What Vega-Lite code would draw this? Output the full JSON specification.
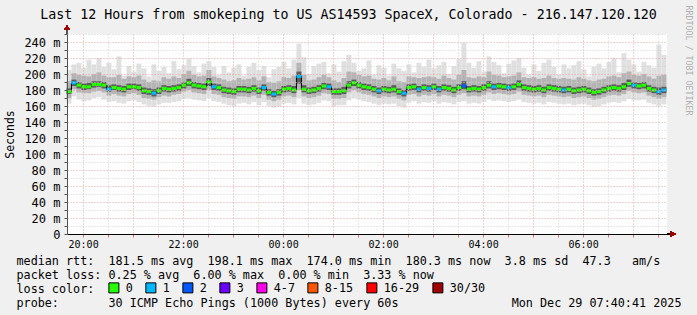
{
"$schema":"https://vega.github.io/schema/vega-lite/v6.json",
"width":600,"height":200,
"autosize":{"type":"none"},
"padding":{"left":67,"top":34,"right":30,"bottom":81},
"background":"#f0f0f0",
"config":{"view":{"fill":"#ffffff","stroke":null},"font":"DejaVu Sans Mono"},
"data":{"values":[
{"t":"2025-12-28T19:43:00Z","lo":163,"p10":170,"p25":175,"med":178,"p75":182,"p90":191,"hi":205,"loss":"0"},
{"t":"2025-12-28T19:49:00Z","lo":172,"p10":181,"p25":185,"med":189,"p75":193,"p90":201,"hi":212,"loss":"1"},
{"t":"2025-12-28T19:55:00Z","lo":168,"p10":177,"p25":182,"med":186,"p75":190,"p90":199,"hi":214,"loss":"0"},
{"t":"2025-12-28T20:01:00Z","lo":166,"p10":176,"p25":180,"med":184,"p75":188,"p90":198,"hi":208,"loss":"0"},
{"t":"2025-12-28T20:07:00Z","lo":167,"p10":176,"p25":181,"med":184,"p75":189,"p90":197,"hi":218,"loss":"0"},
{"t":"2025-12-28T20:13:00Z","lo":170,"p10":178,"p25":183,"med":187,"p75":191,"p90":200,"hi":212,"loss":"0"},
{"t":"2025-12-28T20:19:00Z","lo":171,"p10":179,"p25":184,"med":187,"p75":191,"p90":202,"hi":220,"loss":"0"},
{"t":"2025-12-28T20:25:00Z","lo":168,"p10":177,"p25":182,"med":186,"p75":190,"p90":198,"hi":209,"loss":"0"},
{"t":"2025-12-28T20:31:00Z","lo":165,"p10":173,"p25":178,"med":181,"p75":186,"p90":196,"hi":214,"loss":"1"},
{"t":"2025-12-28T20:37:00Z","lo":166,"p10":175,"p25":180,"med":183,"p75":187,"p90":196,"hi":206,"loss":"0"},
{"t":"2025-12-28T20:43:00Z","lo":164,"p10":173,"p25":178,"med":182,"p75":186,"p90":199,"hi":222,"loss":"0"},
{"t":"2025-12-28T20:49:00Z","lo":163,"p10":172,"p25":177,"med":181,"p75":185,"p90":194,"hi":198,"loss":"0"},
{"t":"2025-12-28T20:55:00Z","lo":166,"p10":175,"p25":180,"med":184,"p75":188,"p90":197,"hi":210,"loss":"0"},
{"t":"2025-12-28T21:01:00Z","lo":167,"p10":176,"p25":181,"med":184,"p75":188,"p90":196,"hi":203,"loss":"0"},
{"t":"2025-12-28T21:07:00Z","lo":165,"p10":174,"p25":179,"med":183,"p75":187,"p90":198,"hi":213,"loss":"0"},
{"t":"2025-12-28T21:13:00Z","lo":162,"p10":170,"p25":175,"med":179,"p75":183,"p90":193,"hi":207,"loss":"0"},
{"t":"2025-12-28T21:19:00Z","lo":160,"p10":169,"p25":174,"med":178,"p75":182,"p90":190,"hi":197,"loss":"0"},
{"t":"2025-12-28T21:25:00Z","lo":159,"p10":168,"p25":172,"med":176,"p75":181,"p90":192,"hi":212,"loss":"1"},
{"t":"2025-12-28T21:31:00Z","lo":162,"p10":171,"p25":175,"med":179,"p75":183,"p90":191,"hi":204,"loss":"0"},
{"t":"2025-12-28T21:37:00Z","lo":164,"p10":173,"p25":178,"med":182,"p75":186,"p90":196,"hi":209,"loss":"0"},
{"t":"2025-12-28T21:43:00Z","lo":164,"p10":172,"p25":177,"med":181,"p75":185,"p90":194,"hi":201,"loss":"0"},
{"t":"2025-12-28T21:49:00Z","lo":165,"p10":174,"p25":178,"med":182,"p75":186,"p90":197,"hi":216,"loss":"0"},
{"t":"2025-12-28T21:55:00Z","lo":166,"p10":175,"p25":179,"med":183,"p75":187,"p90":195,"hi":206,"loss":"0"},
{"t":"2025-12-28T22:01:00Z","lo":169,"p10":178,"p25":182,"med":186,"p75":190,"p90":200,"hi":211,"loss":"0"},
{"t":"2025-12-28T22:07:00Z","lo":170,"p10":180,"p25":185,"med":189,"p75":194,"p90":204,"hi":219,"loss":"0"},
{"t":"2025-12-28T22:13:00Z","lo":168,"p10":177,"p25":182,"med":186,"p75":190,"p90":199,"hi":210,"loss":"0"},
{"t":"2025-12-28T22:19:00Z","lo":167,"p10":176,"p25":181,"med":185,"p75":189,"p90":197,"hi":202,"loss":"0"},
{"t":"2025-12-28T22:25:00Z","lo":166,"p10":175,"p25":180,"med":184,"p75":188,"p90":198,"hi":213,"loss":"0"},
{"t":"2025-12-28T22:31:00Z","lo":170,"p10":180,"p25":185,"med":190,"p75":195,"p90":205,"hi":216,"loss":"0"},
{"t":"2025-12-28T22:37:00Z","lo":166,"p10":175,"p25":180,"med":184,"p75":188,"p90":197,"hi":209,"loss":"1"},
{"t":"2025-12-28T22:43:00Z","lo":165,"p10":174,"p25":179,"med":183,"p75":187,"p90":195,"hi":199,"loss":"0"},
{"t":"2025-12-28T22:49:00Z","lo":163,"p10":171,"p25":176,"med":180,"p75":184,"p90":193,"hi":210,"loss":"0"},
{"t":"2025-12-28T22:55:00Z","lo":161,"p10":170,"p25":175,"med":179,"p75":183,"p90":191,"hi":202,"loss":"0"},
{"t":"2025-12-28T23:01:00Z","lo":160,"p10":169,"p25":174,"med":178,"p75":182,"p90":192,"hi":208,"loss":"0"},
{"t":"2025-12-28T23:07:00Z","lo":163,"p10":172,"p25":177,"med":181,"p75":185,"p90":195,"hi":212,"loss":"0"},
{"t":"2025-12-28T23:13:00Z","lo":164,"p10":172,"p25":177,"med":181,"p75":185,"p90":193,"hi":198,"loss":"0"},
{"t":"2025-12-28T23:19:00Z","lo":162,"p10":171,"p25":176,"med":180,"p75":184,"p90":194,"hi":209,"loss":"0"},
{"t":"2025-12-28T23:25:00Z","lo":165,"p10":173,"p25":178,"med":182,"p75":186,"p90":196,"hi":214,"loss":"0"},
{"t":"2025-12-28T23:31:00Z","lo":161,"p10":170,"p25":175,"med":179,"p75":183,"p90":192,"hi":205,"loss":"0"},
{"t":"2025-12-28T23:37:00Z","lo":165,"p10":174,"p25":179,"med":183,"p75":187,"p90":197,"hi":210,"loss":"1"},
{"t":"2025-12-28T23:43:00Z","lo":160,"p10":168,"p25":173,"med":177,"p75":181,"p90":190,"hi":196,"loss":"0"},
{"t":"2025-12-28T23:49:00Z","lo":158,"p10":166,"p25":171,"med":175,"p75":179,"p90":189,"hi":206,"loss":"1"},
{"t":"2025-12-28T23:55:00Z","lo":159,"p10":168,"p25":173,"med":177,"p75":181,"p90":191,"hi":209,"loss":"0"},
{"t":"2025-12-29T00:01:00Z","lo":163,"p10":172,"p25":177,"med":181,"p75":185,"p90":196,"hi":215,"loss":"0"},
{"t":"2025-12-29T00:07:00Z","lo":164,"p10":173,"p25":178,"med":182,"p75":186,"p90":195,"hi":207,"loss":"0"},
{"t":"2025-12-29T00:13:00Z","lo":162,"p10":171,"p25":176,"med":180,"p75":185,"p90":198,"hi":218,"loss":"0"},
{"t":"2025-12-29T00:19:00Z","lo":170,"p10":180,"p25":188,"med":197,"p75":203,"p90":214,"hi":238,"loss":"1"},
{"t":"2025-12-29T00:25:00Z","lo":163,"p10":172,"p25":177,"med":181,"p75":186,"p90":199,"hi":221,"loss":"0"},
{"t":"2025-12-29T00:31:00Z","lo":161,"p10":170,"p25":175,"med":179,"p75":183,"p90":192,"hi":200,"loss":"0"},
{"t":"2025-12-29T00:37:00Z","lo":162,"p10":171,"p25":176,"med":180,"p75":184,"p90":193,"hi":210,"loss":"0"},
{"t":"2025-12-29T00:43:00Z","lo":164,"p10":173,"p25":178,"med":182,"p75":186,"p90":196,"hi":213,"loss":"0"},
{"t":"2025-12-29T00:49:00Z","lo":167,"p10":176,"p25":181,"med":185,"p75":189,"p90":199,"hi":215,"loss":"0"},
{"t":"2025-12-29T00:55:00Z","lo":166,"p10":175,"p25":180,"med":184,"p75":188,"p90":196,"hi":201,"loss":"1"},
{"t":"2025-12-29T01:01:00Z","lo":160,"p10":169,"p25":174,"med":178,"p75":182,"p90":192,"hi":212,"loss":"0"},
{"t":"2025-12-29T01:07:00Z","lo":161,"p10":169,"p25":174,"med":178,"p75":182,"p90":190,"hi":203,"loss":"0"},
{"t":"2025-12-29T01:13:00Z","lo":161,"p10":170,"p25":175,"med":179,"p75":184,"p90":195,"hi":216,"loss":"0"},
{"t":"2025-12-29T01:19:00Z","lo":167,"p10":177,"p25":182,"med":186,"p75":191,"p90":203,"hi":224,"loss":"0"},
{"t":"2025-12-29T01:25:00Z","lo":170,"p10":180,"p25":185,"med":189,"p75":193,"p90":202,"hi":214,"loss":"0"},
{"t":"2025-12-29T01:31:00Z","lo":168,"p10":177,"p25":182,"med":186,"p75":190,"p90":199,"hi":204,"loss":"0"},
{"t":"2025-12-29T01:37:00Z","lo":166,"p10":175,"p25":180,"med":184,"p75":188,"p90":197,"hi":207,"loss":"0"},
{"t":"2025-12-29T01:43:00Z","lo":165,"p10":174,"p25":179,"med":183,"p75":187,"p90":198,"hi":217,"loss":"0"},
{"t":"2025-12-29T01:49:00Z","lo":163,"p10":172,"p25":177,"med":181,"p75":185,"p90":194,"hi":199,"loss":"0"},
{"t":"2025-12-29T01:55:00Z","lo":161,"p10":170,"p25":175,"med":179,"p75":183,"p90":193,"hi":211,"loss":"1"},
{"t":"2025-12-29T02:01:00Z","lo":163,"p10":172,"p25":177,"med":181,"p75":185,"p90":195,"hi":208,"loss":"0"},
{"t":"2025-12-29T02:07:00Z","lo":162,"p10":171,"p25":176,"med":180,"p75":184,"p90":192,"hi":198,"loss":"0"},
{"t":"2025-12-29T02:13:00Z","lo":163,"p10":172,"p25":177,"med":181,"p75":186,"p90":197,"hi":213,"loss":"0"},
{"t":"2025-12-29T02:19:00Z","lo":160,"p10":169,"p25":174,"med":178,"p75":182,"p90":191,"hi":207,"loss":"0"},
{"t":"2025-12-29T02:25:00Z","lo":158,"p10":167,"p25":172,"med":176,"p75":180,"p90":190,"hi":204,"loss":"1"},
{"t":"2025-12-29T02:31:00Z","lo":164,"p10":174,"p25":179,"med":183,"p75":187,"p90":197,"hi":212,"loss":"0"},
{"t":"2025-12-29T02:37:00Z","lo":166,"p10":175,"p25":180,"med":184,"p75":188,"p90":196,"hi":202,"loss":"0"},
{"t":"2025-12-29T02:43:00Z","lo":163,"p10":172,"p25":177,"med":181,"p75":185,"p90":195,"hi":214,"loss":"1"},
{"t":"2025-12-29T02:49:00Z","lo":165,"p10":174,"p25":179,"med":183,"p75":187,"p90":196,"hi":209,"loss":"0"},
{"t":"2025-12-29T02:55:00Z","lo":164,"p10":173,"p25":178,"med":182,"p75":186,"p90":197,"hi":218,"loss":"1"},
{"t":"2025-12-29T03:01:00Z","lo":166,"p10":175,"p25":180,"med":184,"p75":188,"p90":196,"hi":207,"loss":"0"},
{"t":"2025-12-29T03:07:00Z","lo":163,"p10":172,"p25":177,"med":181,"p75":185,"p90":194,"hi":211,"loss":"1"},
{"t":"2025-12-29T03:13:00Z","lo":165,"p10":174,"p25":179,"med":183,"p75":187,"p90":198,"hi":215,"loss":"0"},
{"t":"2025-12-29T03:19:00Z","lo":164,"p10":173,"p25":178,"med":182,"p75":186,"p90":195,"hi":200,"loss":"0"},
{"t":"2025-12-29T03:25:00Z","lo":162,"p10":171,"p25":176,"med":180,"p75":184,"p90":193,"hi":210,"loss":"0"},
{"t":"2025-12-29T03:31:00Z","lo":165,"p10":174,"p25":179,"med":183,"p75":187,"p90":199,"hi":219,"loss":"0"},
{"t":"2025-12-29T03:37:00Z","lo":166,"p10":176,"p25":181,"med":185,"p75":191,"p90":205,"hi":239,"loss":"2"},
{"t":"2025-12-29T03:43:00Z","lo":163,"p10":172,"p25":177,"med":181,"p75":185,"p90":196,"hi":214,"loss":"0"},
{"t":"2025-12-29T03:49:00Z","lo":164,"p10":173,"p25":178,"med":182,"p75":186,"p90":195,"hi":208,"loss":"0"},
{"t":"2025-12-29T03:55:00Z","lo":163,"p10":172,"p25":177,"med":181,"p75":185,"p90":197,"hi":216,"loss":"0"},
{"t":"2025-12-29T04:01:00Z","lo":165,"p10":174,"p25":179,"med":183,"p75":187,"p90":196,"hi":203,"loss":"0"},
{"t":"2025-12-29T04:07:00Z","lo":168,"p10":177,"p25":182,"med":186,"p75":191,"p90":203,"hi":222,"loss":"0"},
{"t":"2025-12-29T04:13:00Z","lo":166,"p10":175,"p25":180,"med":184,"p75":188,"p90":199,"hi":215,"loss":"1"},
{"t":"2025-12-29T04:19:00Z","lo":167,"p10":176,"p25":181,"med":185,"p75":189,"p90":198,"hi":211,"loss":"0"},
{"t":"2025-12-29T04:25:00Z","lo":166,"p10":175,"p25":180,"med":184,"p75":188,"p90":196,"hi":201,"loss":"0"},
{"t":"2025-12-29T04:31:00Z","lo":165,"p10":174,"p25":179,"med":183,"p75":187,"p90":197,"hi":213,"loss":"1"},
{"t":"2025-12-29T04:37:00Z","lo":166,"p10":175,"p25":180,"med":184,"p75":188,"p90":198,"hi":217,"loss":"0"},
{"t":"2025-12-29T04:43:00Z","lo":168,"p10":178,"p25":183,"med":187,"p75":192,"p90":202,"hi":220,"loss":"0"},
{"t":"2025-12-29T04:49:00Z","lo":165,"p10":174,"p25":179,"med":183,"p75":187,"p90":196,"hi":208,"loss":"0"},
{"t":"2025-12-29T04:55:00Z","lo":164,"p10":173,"p25":178,"med":182,"p75":186,"p90":195,"hi":199,"loss":"0"},
{"t":"2025-12-29T05:01:00Z","lo":163,"p10":172,"p25":177,"med":181,"p75":185,"p90":196,"hi":212,"loss":"0"},
{"t":"2025-12-29T05:07:00Z","lo":164,"p10":173,"p25":178,"med":182,"p75":186,"p90":194,"hi":204,"loss":"0"},
{"t":"2025-12-29T05:13:00Z","lo":162,"p10":171,"p25":176,"med":180,"p75":184,"p90":195,"hi":214,"loss":"0"},
{"t":"2025-12-29T05:19:00Z","lo":165,"p10":174,"p25":179,"med":183,"p75":187,"p90":198,"hi":218,"loss":"0"},
{"t":"2025-12-29T05:25:00Z","lo":164,"p10":173,"p25":178,"med":182,"p75":186,"p90":195,"hi":209,"loss":"0"},
{"t":"2025-12-29T05:31:00Z","lo":163,"p10":172,"p25":177,"med":181,"p75":185,"p90":194,"hi":199,"loss":"0"},
{"t":"2025-12-29T05:37:00Z","lo":162,"p10":171,"p25":176,"med":180,"p75":184,"p90":195,"hi":212,"loss":"1"},
{"t":"2025-12-29T05:43:00Z","lo":163,"p10":172,"p25":177,"med":181,"p75":185,"p90":194,"hi":207,"loss":"0"},
{"t":"2025-12-29T05:49:00Z","lo":161,"p10":170,"p25":175,"med":179,"p75":183,"p90":193,"hi":211,"loss":"0"},
{"t":"2025-12-29T05:55:00Z","lo":162,"p10":171,"p25":176,"med":180,"p75":184,"p90":196,"hi":216,"loss":"0"},
{"t":"2025-12-29T06:01:00Z","lo":163,"p10":172,"p25":177,"med":181,"p75":185,"p90":194,"hi":206,"loss":"0"},
{"t":"2025-12-29T06:07:00Z","lo":161,"p10":170,"p25":175,"med":179,"p75":183,"p90":192,"hi":197,"loss":"0"},
{"t":"2025-12-29T06:13:00Z","lo":159,"p10":168,"p25":173,"med":177,"p75":181,"p90":191,"hi":209,"loss":"0"},
{"t":"2025-12-29T06:19:00Z","lo":160,"p10":169,"p25":174,"med":178,"p75":182,"p90":193,"hi":213,"loss":"0"},
{"t":"2025-12-29T06:25:00Z","lo":162,"p10":171,"p25":176,"med":180,"p75":184,"p90":194,"hi":207,"loss":"0"},
{"t":"2025-12-29T06:31:00Z","lo":164,"p10":173,"p25":178,"med":182,"p75":186,"p90":197,"hi":215,"loss":"0"},
{"t":"2025-12-29T06:37:00Z","lo":165,"p10":174,"p25":179,"med":183,"p75":187,"p90":198,"hi":220,"loss":"0"},
{"t":"2025-12-29T06:43:00Z","lo":164,"p10":173,"p25":178,"med":182,"p75":186,"p90":196,"hi":202,"loss":"0"},
{"t":"2025-12-29T06:49:00Z","lo":166,"p10":175,"p25":180,"med":184,"p75":189,"p90":201,"hi":226,"loss":"0"},
{"t":"2025-12-29T06:55:00Z","lo":169,"p10":179,"p25":184,"med":188,"p75":193,"p90":203,"hi":218,"loss":"0"},
{"t":"2025-12-29T07:01:00Z","lo":167,"p10":177,"p25":182,"med":186,"p75":190,"p90":199,"hi":212,"loss":"1"},
{"t":"2025-12-29T07:07:00Z","lo":167,"p10":176,"p25":181,"med":185,"p75":189,"p90":198,"hi":203,"loss":"0"},
{"t":"2025-12-29T07:13:00Z","lo":168,"p10":177,"p25":182,"med":186,"p75":190,"p90":200,"hi":215,"loss":"0"},
{"t":"2025-12-29T07:19:00Z","lo":164,"p10":173,"p25":178,"med":182,"p75":186,"p90":197,"hi":211,"loss":"0"},
{"t":"2025-12-29T07:25:00Z","lo":162,"p10":171,"p25":176,"med":180,"p75":184,"p90":194,"hi":208,"loss":"0"},
{"t":"2025-12-29T07:31:00Z","lo":160,"p10":169,"p25":174,"med":178,"p75":183,"p90":198,"hi":237,"loss":"1"},
{"t":"2025-12-29T07:37:00Z","lo":162,"p10":171,"p25":176,"med":180,"p75":184,"p90":199,"hi":224,"loss":"1"}
]},
"layer":[
{"mark":{"type":"rule","strokeWidth":5,"color":"#e0e0e0"},
 "encoding":{
  "x":{"field":"t","type":"temporal",
   "scale":{"type":"utc","domain":[1766950841000,1766994041000],"nice":false},
   "axis":{"orient":"bottom","zindex":1,
    "values":[1766952000000,1766953800000,1766955600000,1766957400000,1766959200000,1766961000000,1766962800000,1766964600000,1766966400000,1766968200000,1766970000000,1766971800000,1766973600000,1766975400000,1766977200000,1766979000000,1766980800000,1766982600000,1766984400000,1766986200000,1766988000000,1766989800000,1766991600000,1766993400000],
    "labelExpr":"utcminutes(datum.value)==0 && utchours(datum.value)%2==0 ? utcFormat(datum.value,'%H:%M') : ''",
    "labelOverlap":false,"labelFlush":false,
    "labelFont":"DejaVu Sans Mono","labelFontSize":10,"labelColor":"#000000","labelPadding":2,
    "grid":true,"gridDash":[1,2],"gridOpacity":1,
    "gridColor":{"condition":{"test":"utcminutes(datum.value)==0","value":"#e8a4a4"},"value":"#d2d2d2"},
    "tickColor":"#e07070",
    "tickSize":3,"domainColor":"#000000","domainWidth":1,
    "title":["median rtt:\u00a0\u00a0181.5 ms avg\u00a0\u00a0198.1 ms max\u00a0\u00a0174.0 ms min\u00a0\u00a0180.3 ms now\u00a0\u00a03.8 ms sd\u00a0\u00a047.3\u00a0\u00a0\u00a0am/s","packet loss: 0.25 % avg\u00a0\u00a06.00 % max\u00a0\u00a00.00 % min\u00a0\u00a03.33 % now","loss color:","probe:\u00a0\u00a0\u00a0\u00a0\u00a0\u00a0\u00a030 ICMP Echo Pings (1000 Bytes) every 60s\u00a0\u00a0\u00a0\u00a0\u00a0\u00a0\u00a0\u00a0\u00a0\u00a0\u00a0\u00a0\u00a0\u00a0\u00a0\u00a0Mon Dec 29 07:40:41 2025"],
    "titleFont":"DejaVu Sans Mono","titleFontSize":11.75,"titleFontWeight":"normal","titleColor":"#000000",
    "titleAnchor":"start","titleAlign":"left","titleBaseline":"alphabetic","titleX":-51,"titleY":30,"titleLineHeight":14}},
  "y":{"field":"lo","type":"quantitative","scale":{"domain":[0,250],"nice":false},
   "axis":{"orient":"left","zindex":1,"values":[0,10,20,30,40,50,60,70,80,90,100,110,120,130,140,150,160,170,180,190,200,210,220,230,240,250],
    "labelExpr":"datum.value % 20 == 0 && datum.value < 250 ? (datum.value == 0 ? '0' : datum.value + ' m') : ''",
    "labelFont":"DejaVu Sans Mono","labelFontSize":12,"labelColor":"#000000","labelPadding":4,
    "grid":true,"gridDash":[1,2],"gridOpacity":1,
    "gridColor":{"condition":{"test":"datum.value % 20 == 0","value":"#e8a4a4"},"value":"#d2d2d2"},
    "tickColor":"#555555","tickSize":3,"domainColor":"#555555","domainWidth":1,
    "title":"Seconds","titleFont":"DejaVu Sans Mono","titleFontSize":11.5,"titleFontWeight":"normal","titleColor":"#000000",
    "titleAngle":-90,"titleX":-57,"titleY":100,"titleAlign":"center","titleBaseline":"middle"}},
  "y2":{"field":"hi"}}},
{"mark":{"type":"rule","strokeWidth":5,"color":"#b4b4b4"},
 "encoding":{"x":{"field":"t","type":"temporal","axis":null},"y":{"field":"p10","type":"quantitative","axis":null},"y2":{"field":"p90"}}},
{"mark":{"type":"rule","strokeWidth":5,"color":"#5c5c5c"},
 "encoding":{"x":{"field":"t","type":"temporal","axis":null},"y":{"field":"p25","type":"quantitative","axis":null},"y2":{"field":"p75"}}},
{"mark":{"type":"line","interpolate":"step","color":"#000000","strokeWidth":1},
 "encoding":{"x":{"field":"t","type":"temporal","axis":null},"y":{"field":"med","type":"quantitative","axis":null}}},
{"mark":{"type":"tick","orient":"horizontal","size":5,"thickness":3,"opacity":1},
 "encoding":{"x":{"field":"t","type":"temporal","axis":null},"y":{"field":"med","type":"quantitative","axis":null},
  "color":{"field":"loss","type":"nominal",
   "scale":{"domain":["0","1","2","3","4-7","8-15","16-29","30/30"],"range":["#26ff00","#00b8ff","#0059ff","#6a00ff","#ff00ea","#ff5500","#ff0000","#a10000"]},
   "legend":{"orient":"none","legendX":41,"legendY":248,"direction":"horizontal","columns":8,"gridAlign":"none","title":null,"padding":0,
    "symbolType":"square","symbolSize":100,"symbolStrokeColor":"#000000","symbolStrokeWidth":1,"symbolOpacity":1,
    "labelFont":"DejaVu Sans Mono","labelFontSize":11.75,"labelColor":"#000000","labelOffset":6,"columnPadding":10,"rowPadding":0}}}},
{"mark":{"type":"rule","color":"#555555","strokeWidth":1},
 "encoding":{"x":{"datum":1766950841000,"type":"temporal","axis":null},"y":{"datum":250,"type":"quantitative","axis":null},"y2":{"datum":256}}},
{"mark":{"type":"rule","color":"#000000","strokeWidth":1},
 "encoding":{"x":{"datum":1766994041000,"type":"temporal","axis":null},"x2":{"datum":1766994420000},"y":{"datum":0,"type":"quantitative","axis":null}}},
{"mark":{"type":"point","shape":"triangle-right","filled":true,"color":"#a00000","size":30,"opacity":1},
 "encoding":{"x":{"datum":1766994480000,"type":"temporal","axis":null},"y":{"datum":0,"type":"quantitative","axis":null}}},
{"mark":{"type":"point","shape":"triangle-up","filled":true,"color":"#a00000","size":30,"opacity":1},
 "encoding":{
  "x":{"datum":1766950841000,"type":"temporal",
   "axis":{"orient":"top","labels":false,"ticks":false,"domain":false,"grid":false,
    "title":"Last 12 Hours from smokeping to US AS14593 SpaceX, Colorado - 216.147.120.120","titleFont":"DejaVu Sans Mono","titleFontSize":13.3,"titleFontWeight":"normal","titleColor":"#000000",
    "titleX":281,"titleY":-16,"titleAlign":"center","titleBaseline":"alphabetic"}},
  "y":{"datum":258,"type":"quantitative",
   "axis":{"orient":"right","labels":false,"ticks":false,"domain":false,"grid":false,
    "title":"RRDTOOL / TOBI OETIKER","titleFont":"DejaVu Sans Mono","titleFontSize":8.3,"titleFontWeight":"normal","titleColor":"#b0b0b0",
    "titleAngle":90,"titleX":20,"titleY":-29,"titleAlign":"left","titleBaseline":"middle"}}}}
],
"resolve":{"axis":{"x":"independent","y":"independent"}}
}
